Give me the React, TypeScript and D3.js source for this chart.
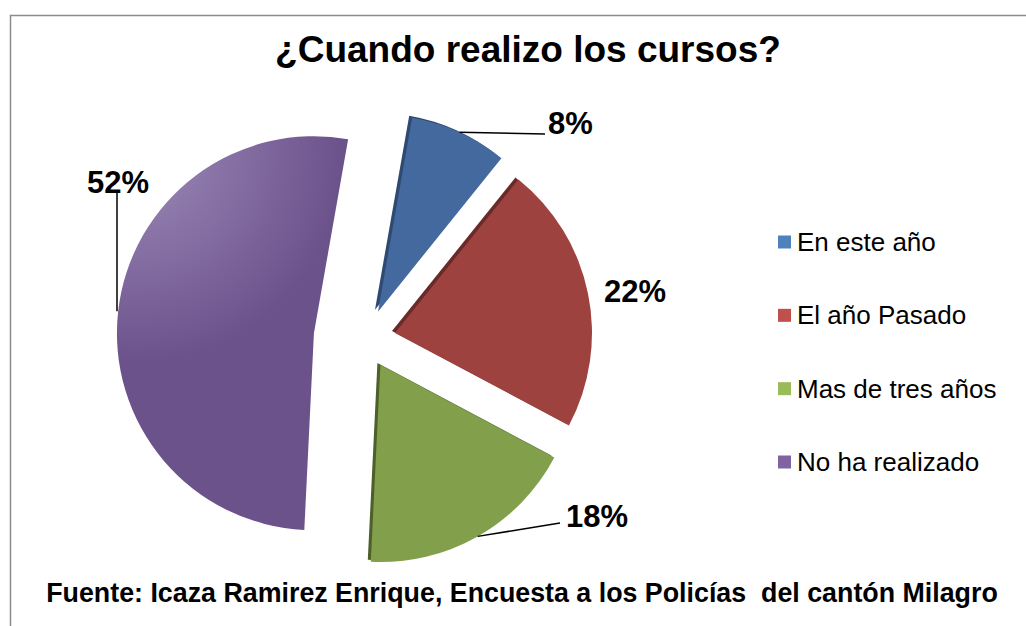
import React from "react";
import * as d3 from "d3";

const categories = ["En este año", "El año Pasado", "Mas de tres años", "No ha realizado"];
const values = [8, 22, 18, 52];
const labels = ["8%", "22%", "18%", "52%"];
const sliceColors = ["#44699E", "#9E4240", "#82A04C", "#6C528B"];
const sliceLight = ["#5077AE", "#A94B48", "#8CAA55", "#9C89B8"];
const sliceDark = ["#2E4A72", "#6A2A29", "#4C6129", "#6C528B"];
const legendColors = ["#4F81BD", "#C0504D", "#9BBB59", "#8064A2"];
const explode = [30, 30, 30, 52];

const W = 1026;
const H = 626;
const cx = 365.6;
const cy = 339;
const R = 197;

// label layout: [x, baseline, anchor, leader end x, leader end y]
const labelLayout: [number, number, string, number | null, number | null][] = [
  [548, 134, "start", 545, 134],
  [604, 302, "start", null, null],
  [566, 527, "start", 560, 523],
  [87, 193, "start", 117, 190],
];

export default function App() {
  const pie = d3
    .pie<number>()
    .sort(null)
    .startAngle((10 * Math.PI) / 180)
    .endAngle((370 * Math.PI) / 180);
  const arcs = pie(values);
  const arc = d3.arc<d3.PieArcDatum<number>>().innerRadius(0).outerRadius(R);

  const legendY = d3.scalePoint<string>().domain(categories).range([242, 462]);

  return (
    <svg
      width={W}
      height={H}
      style={{ position: "absolute", left: 0, top: 0, background: "#fff" }}
      fontFamily="'Liberation Sans', Arial, sans-serif"
    >
      <defs>
        {arcs.map((a, i) => (
          <radialGradient
            key={i}
            id={`g${i}`}
            gradientUnits="userSpaceOnUse"
            cx={-R * 0.9}
            cy={-R * 0.9}
            r={R * 1.9}
          >
            <stop offset="0%" stopColor={sliceLight[i]} />
            <stop offset="55%" stopColor={sliceColors[i]} />
            <stop offset="100%" stopColor={sliceColors[i]} />
          </radialGradient>
        ))}
      </defs>
      <rect x={0} y={0} width={W} height={H} fill="#fff" />
      <path d={`M10.5,${H} L10.5,15.5 L${W},15.5`} fill="none" stroke="#8c8c8c" strokeWidth={1.5} />

      <text
        x={528}
        y={62}
        textAnchor="middle"
        fontSize={37}
        fontWeight="bold"
        fill="#000"
      >
        ¿Cuando realizo los cursos?
      </text>

      {arcs.map((a, i) => {
        const mid = (a.startAngle + a.endAngle) / 2;
        const ox = cx + explode[i] * Math.sin(mid);
        const oy = cy - explode[i] * Math.cos(mid);
        return (
          <g key={i} transform={`translate(${ox},${oy})`}>
            {i < 3 && (
              <path d={arc(a) || ""} fill={sliceDark[i]} transform="translate(-3,-2)" />
            )}
            <path d={arc(a) || ""} fill={`url(#g${i})`} />
          </g>
        );
      })}

      {arcs.map((a, i) => {
        const mid = (a.startAngle + a.endAngle) / 2;
        const ox = cx + explode[i] * Math.sin(mid);
        const oy = cy - explode[i] * Math.cos(mid);
        const sx = ox + R * Math.sin(mid);
        const sy = oy - R * Math.cos(mid);
        const [lx, ly, anchor, ex, ey] = labelLayout[i];
        return (
          <g key={i}>
            {ex !== null && ey !== null && (
              <line x1={i === 3 ? ex : sx} y1={sy} x2={ex} y2={ey} stroke="#000" strokeWidth={1.5} />
            )}
            <text
              x={lx}
              y={ly}
              textAnchor={anchor as any}
              fontSize={31}
              fontWeight="bold"
              fill="#000"
            >
              {labels[i]}
            </text>
          </g>
        );
      })}

      {categories.map((c, i) => {
        const y = legendY(c) as number;
        return (
          <g key={c}>
            <rect x={778} y={y - 6.5} width={13} height={13} fill={legendColors[i]} />
            <text x={797} y={y + 9} fontSize={26} fill="#000">
              {c}
            </text>
          </g>
        );
      })}

      <text
        x={522}
        y={602}
        textAnchor="middle"
        fontSize={26.8}
        fontWeight="bold"
        fill="#000"
        style={{ whiteSpace: "pre" }}
        xmlSpace="preserve"
      >
        {"Fuente: Icaza Ramirez Enrique, Encuesta a los Policías  del cantón Milagro"}
      </text>
    </svg>
  );
}
